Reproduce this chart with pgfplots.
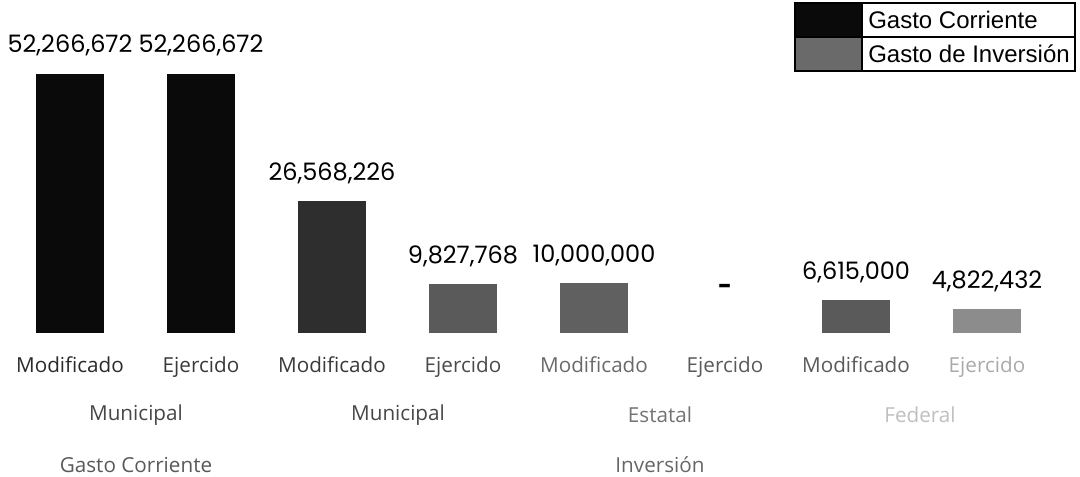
\documentclass[border=0pt]{standalone}
\usepackage{fontspec}
\usepackage{pgfplots}
\pgfplotsset{compat=1.18}
\setmainfont{Open Sans}
\newfontfamily\valfont{Poppins}
\newfontfamily\legfont{Liberation Sans}

\definecolor{gcorr}{HTML}{0A0A0A}
\definecolor{inv1}{HTML}{2E2E2E}
\definecolor{inv2}{HTML}{5A5A5A}
\definecolor{inv3}{HTML}{606060}
\definecolor{inv4}{HTML}{8C8C8C}
\definecolor{leginv}{HTML}{6A6A6A}

\begin{document}
\begin{tikzpicture}[x=0.75pt,y=0.75pt]
\path[use as bounding box] (0,0) rectangle (1080,477);

\begin{axis}[
    at={(3.375pt,108pt)}, anchor=south west,
    scale only axis,
    width=786pt, height=225pt,
    xmin=-0.5, xmax=7.5,
    ymin=0, ymax=60.54e6,
    axis line style={draw=none},
    ytick=\empty,
    xtick={0,...,7},
    major tick length=0pt,
    xticklabels={
      {\color[HTML]{2A2A2A}Modificado},
      {\color[HTML]{3A3A3A}Ejercido},
      {\color[HTML]{3A3A3A}Modificado},
      {\color[HTML]{4A4A4A}Ejercido},
      {\color[HTML]{6A6A6A}Modificado},
      {\color[HTML]{5A5A5A}Ejercido},
      {\color[HTML]{5A5A5A}Modificado},
      {\color[HTML]{AAAAAA}Ejercido}},
    xticklabel style={font=\fontsize{15.5}{17}\selectfont, yshift=-14pt},
    ybar, bar width=51pt, bar shift=0pt,
    point meta=explicit symbolic,
    nodes near coords,
    nodes near coords style={font=\valfont\fontsize{18}{20}\selectfont,
        anchor=south, inner sep=0pt, yshift=13pt},
]
\addplot[draw=none, fill=gcorr] coordinates {(0,52266672) [52,266,672]};
\addplot[draw=none, fill=gcorr] coordinates {(1,52266672) [52,266,672]};
\addplot[draw=none, fill=inv1] coordinates {(2,26568226) [26,568,226]};
\addplot[draw=none, fill=inv2] coordinates {(3,9827768) [9,827,768]};
\addplot[draw=none, fill=inv3] coordinates {(4,10000000) [10,000,000]};
\addplot[draw=none, fill=none, nodes near coords style={yshift=16pt}] coordinates {(5,0) [\textbf{-}]};
\addplot[draw=none, fill=inv2] coordinates {(6,6615000) [6,615,000]};
\addplot[draw=none, fill=inv4] coordinates {(7,4822432) [4,822,432]};
\end{axis}

% group labels
\begin{scope}[every node/.style={font=\fontsize{15.5}{17}\selectfont}]
\node[text=black!72] at (136,62) {Municipal};
\node[text=black!72] at (398,62) {Municipal};
\node[text=black!55] at (660,62) {Estatal};
\node[text=black!25] at (920,62) {Federal};
\node[text=black!65] at (136,12) {Gasto Corriente};
\node[text=black!60] at (660,12) {Inversión};
\end{scope}

% legend
\fill[gcorr] (795,440) rectangle (862,474);
\fill[leginv] (795,406) rectangle (862,440);
\draw[line width=0.9pt] (795,406) rectangle (1075,474);
\draw[line width=0.9pt] (862,406) -- (862,474);
\draw[line width=0.9pt] (795,440) -- (1075,440);
\node[anchor=west, font=\legfont\fontsize{18}{20}\selectfont, inner sep=0pt] at (868,457) {Gasto Corriente};
\node[anchor=west, font=\legfont\fontsize{18}{20}\selectfont, inner sep=0pt] at (868,423) {Gasto de Inversión};
\end{tikzpicture}
\end{document}
